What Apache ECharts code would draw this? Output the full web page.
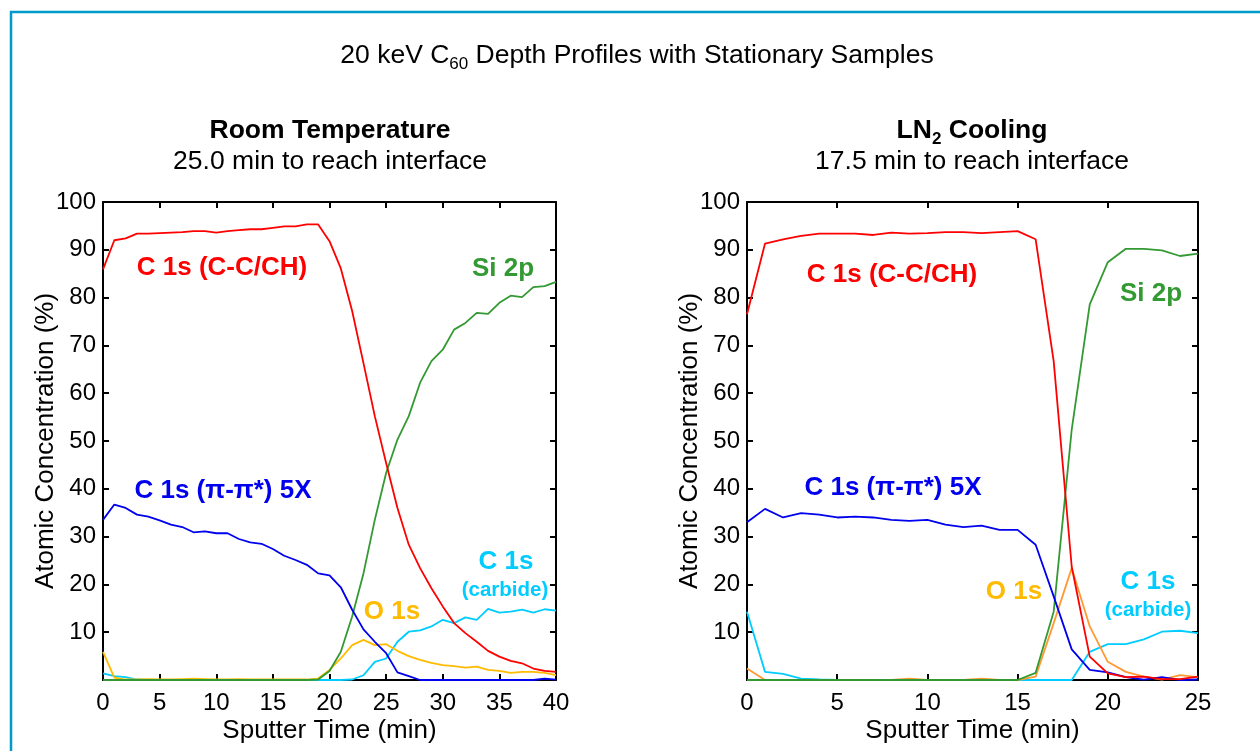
<!DOCTYPE html>
<html>
<head>
<meta charset="utf-8">
<script src="https://cdn.jsdelivr.net/npm/echarts@6/dist/echarts.min.js"></script>
<style>
html,body{margin:0;padding:0;background:#fff;}
#chart{width:1260px;height:751px;}
</style>
</head>
<body>
<div id="chart"></div>
<script>
// ---------- DATA ----------
const timeRT = [0,1,2,3,4,5,6,7,8,9,10,11,12,13,14,15,16,17,18,19,20,21,22,23,24,25,26,27,28,29,30,31,32,33,34,35,36,37,38,39,40];
const c1sCC_RT = [85.9,92.0,92.4,93.4,93.4,93.5,93.6,93.7,93.9,93.9,93.6,93.9,94.1,94.3,94.3,94.6,94.9,94.9,95.3,95.3,91.8,86.1,77.2,66.3,55.2,45.4,36.0,28.3,23.4,19.2,15.4,11.9,9.8,8.0,6.1,4.9,4.0,3.5,2.4,1.9,1.7];
const c1sPi_RT = [33.5,36.7,36.0,34.6,34.2,33.4,32.5,32.0,30.9,31.1,30.7,30.7,29.5,28.8,28.5,27.4,26.0,25.1,24.1,22.3,21.9,19.4,14.7,10.6,8.0,5.6,1.6,0.8,0,0,0,0,0,0,0,0,0,0,0,0.3,0.1];
const si2p_RT = [0,0,0,0,0,0,0,0,0,0,0,0,0,0,0,0,0,0,0,0.1,1.9,5.9,13.3,22.3,33.5,43.3,50.3,55.2,62.2,66.7,69.1,73.3,74.7,76.8,76.6,78.9,80.4,80.1,82.2,82.4,83.3];
const o1s_RT = [5.9,0.5,0.1,0.1,0.2,0.1,0.1,0.2,0.3,0.2,0.1,0.1,0.2,0.1,0.1,0.1,0.1,0.1,0.1,0.3,2.1,4.5,7.3,8.4,7.3,7.5,6.1,5.0,4.2,3.6,3.1,2.9,2.6,2.8,2.1,1.9,1.5,1.7,1.7,1.5,1.0];
const carbide_RT = [1.4,0.8,0.6,0.1,0,0,0,0,0,0,0,0,0,0,0,0,0,0,0,0,0,0,0.1,1.0,3.8,4.5,8.0,10.1,10.4,11.2,12.6,11.9,13.1,12.6,14.9,14.1,14.3,14.7,14.1,14.8,14.5];

const timeLN = [0,1,2,3,4,5,6,7,8,9,10,11,12,13,14,15,16,17,18,19,20,21,22,23,24,25];
const c1sCC_LN = [76.5,91.3,92.2,92.9,93.4,93.4,93.4,93.1,93.6,93.4,93.5,93.7,93.7,93.5,93.7,93.9,92.2,66.7,23.7,4.9,1.4,0.6,0.7,0.2,0.2,0.7];
const c1sPi_LN = [33.0,35.8,34.0,34.9,34.6,34.0,34.2,34.0,33.5,33.3,33.5,32.5,32.0,32.3,31.4,31.4,28.3,17.5,6.4,2.1,1.6,0.6,0.1,0.6,0,0.1];
const si2p_LN = [0,0,0,0,0,0,0,0,0,0,0,0,0,0,0,0,1.5,14.3,52.4,78.6,87.4,90.2,90.2,89.9,88.7,89.2];
const o1s_LN = [2.4,0,0,0,0,0,0,0,0,0.3,0,0,0,0.3,0,0,0.7,11.9,23.4,11.2,3.8,1.7,0.7,0.1,1.0,0.6];
const carbide_LN = [14.3,1.7,1.3,0.3,0.1,0,0,0,0,0,0,0,0,0,0,0,0,0,0,5.9,7.5,7.5,8.5,10.1,10.3,9.8];

const xTicksRT = {min:0, max:40, interval:5};
const xTicksLN = {min:0, max:25, interval:5};
const yTicks = {min:0, max:100, interval:10};

// ---------- STYLE ----------
const FONT = '"Liberation Sans", Arial, Helvetica, sans-serif';
const COL = {red:'#ff0000', blue:'#0000ee', green:'#339933', gold:'#ffbb00', orange:'#ff9933', cyan:'#00ccff'};

function pairs(t, v){ return t.map((x,i)=>[x, v[i]]); }

function xAxes(grid, tk){
  const base = {
    gridIndex: grid, type:'value', min:tk.min, max:tk.max, interval:tk.interval,
    axisLine:{show:true, onZero:false, lineStyle:{color:'#000', width:2}},
    axisTick:{show:true, inside:true, length:6, lineStyle:{color:'#000', width:2}},
    splitLine:{show:false}
  };
  return [
    Object.assign({}, base, {position:'bottom',
      name:'Sputter Time (min)', nameLocation:'middle', nameGap:38, nameMoveOverlap:false,
      nameTextStyle:{fontFamily:FONT, fontSize:26, color:'#000'},
      axisLabel:{show:true, margin:11, fontFamily:FONT, fontSize:24, color:'#000'}}),
    Object.assign({}, base, {position:'top', axisLabel:{show:false}})
  ];
}
function yAxes(grid){
  const base = {
    gridIndex: grid, type:'value', min:yTicks.min, max:yTicks.max, interval:yTicks.interval,
    axisLine:{show:true, onZero:false, lineStyle:{color:'#000', width:2}},
    axisTick:{show:true, inside:true, length:6, lineStyle:{color:'#000', width:2}},
    splitLine:{show:false}
  };
  return [
    Object.assign({}, base, {position:'left',
      name:'Atomic Concentration (%)', nameLocation:'middle', nameGap:44, nameMoveOverlap:false,
      nameTextStyle:{fontFamily:FONT, fontSize:26, color:'#000'},
      axisLabel:{show:true, margin:7, fontFamily:FONT, fontSize:24, color:'#000',
        formatter: v => v === 0 ? '' : String(v)}}),
    Object.assign({}, base, {position:'right', axisLabel:{show:false}})
  ];
}

function line(xi, yi, data, color){
  return {type:'line', xAxisIndex:xi, yAxisIndex:yi, data:data, showSymbol:false, symbol:'none',
    lineStyle:{color:color, width:1.8}, itemStyle:{color:color}, animation:false};
}

function label(x, y, text, color, size){
  return {type:'text', x:x, y:y, style:{text:text, fill:color, font:'bold '+size+'px '+FONT, align:'center', verticalAlign:'middle'}};
}
function plain(x, y, text, bold){
  return {type:'text', x:x, y:y, style:{text:text, fill:'#000', font:(bold?'bold ':'')+'26.5px '+FONT, align:'center', verticalAlign:'middle'}};
}
function richText(x, y, tokens, bold){
  return {type:'text', x:x, y:y, style:{text:tokens, align:'center', verticalAlign:'middle',
    rich:{
      m:{fontFamily:FONT, fontSize:26.5, fontWeight:bold?'bold':'normal', color:'#000', lineHeight:34},
      s:{fontFamily:FONT, fontSize:17, fontWeight:bold?'bold':'normal', color:'#000', lineHeight:17, verticalAlign:'bottom'}
    }}};
}

const chart = echarts.init(document.getElementById('chart'), null, {renderer:'canvas'});
const option = {
  animation:false,
  backgroundColor:'#fff',
  grid:[
    {left:103, top:202, width:453, height:478},
    {left:747, top:202, width:451, height:478}
  ],
  xAxis: [].concat(xAxes(0, xTicksRT), xAxes(1, xTicksLN)),
  yAxis: [].concat(yAxes(0), yAxes(1)),
  series:[
    line(0,0,pairs(timeRT, carbide_RT), COL.cyan),
    line(0,0,pairs(timeRT, o1s_RT), COL.gold),
    line(0,0,pairs(timeRT, si2p_RT), COL.green),
    line(0,0,pairs(timeRT, c1sPi_RT), COL.blue),
    line(0,0,pairs(timeRT, c1sCC_RT), COL.red),
    line(2,2,pairs(timeLN, carbide_LN), COL.cyan),
    line(2,2,pairs(timeLN, o1s_LN), COL.orange),
    line(2,2,pairs(timeLN, si2p_LN), COL.green),
    line(2,2,pairs(timeLN, c1sPi_LN), COL.blue),
    line(2,2,pairs(timeLN, c1sCC_LN), COL.red)
  ],
  graphic:[
    {type:'rect', shape:{x:11, y:12, width:1400, height:900}, style:{fill:'none', stroke:'#0099cc', lineWidth:2.5}, silent:true},
    richText(637, 56, '{m|20 keV C}{s|60}{m| Depth Profiles with Stationary Samples}', false),
    plain(330, 131, 'Room Temperature', true),
    plain(330, 162, '25.0 min to reach interface', false),
    richText(972, 131, '{m|LN}{s|2}{m| Cooling}', true),
    plain(972, 162, '17.5 min to reach interface', false),
    // left plot labels
    label(222, 268, 'C 1s (C-C/CH)', COL.red, 26),
    label(503, 269, 'Si 2p', COL.green, 26),
    label(223, 491, 'C 1s (\u03c0-\u03c0*) 5X', COL.blue, 26),
    label(392, 612, 'O 1s', COL.gold, 26),
    label(506, 562, 'C 1s', COL.cyan, 26),
    label(505, 590, '(carbide)', COL.cyan, 20.5),
    // right plot labels
    label(892, 275, 'C 1s (C-C/CH)', COL.red, 26),
    label(1151, 294, 'Si 2p', COL.green, 26),
    label(893, 488, 'C 1s (\u03c0-\u03c0*) 5X', COL.blue, 26),
    label(1014, 592, 'O 1s', COL.gold, 26),
    label(1148, 582, 'C 1s', COL.cyan, 26),
    label(1148, 610, '(carbide)', COL.cyan, 20.5)
  ]
};
chart.setOption(option);
</script>
</body>
</html>
